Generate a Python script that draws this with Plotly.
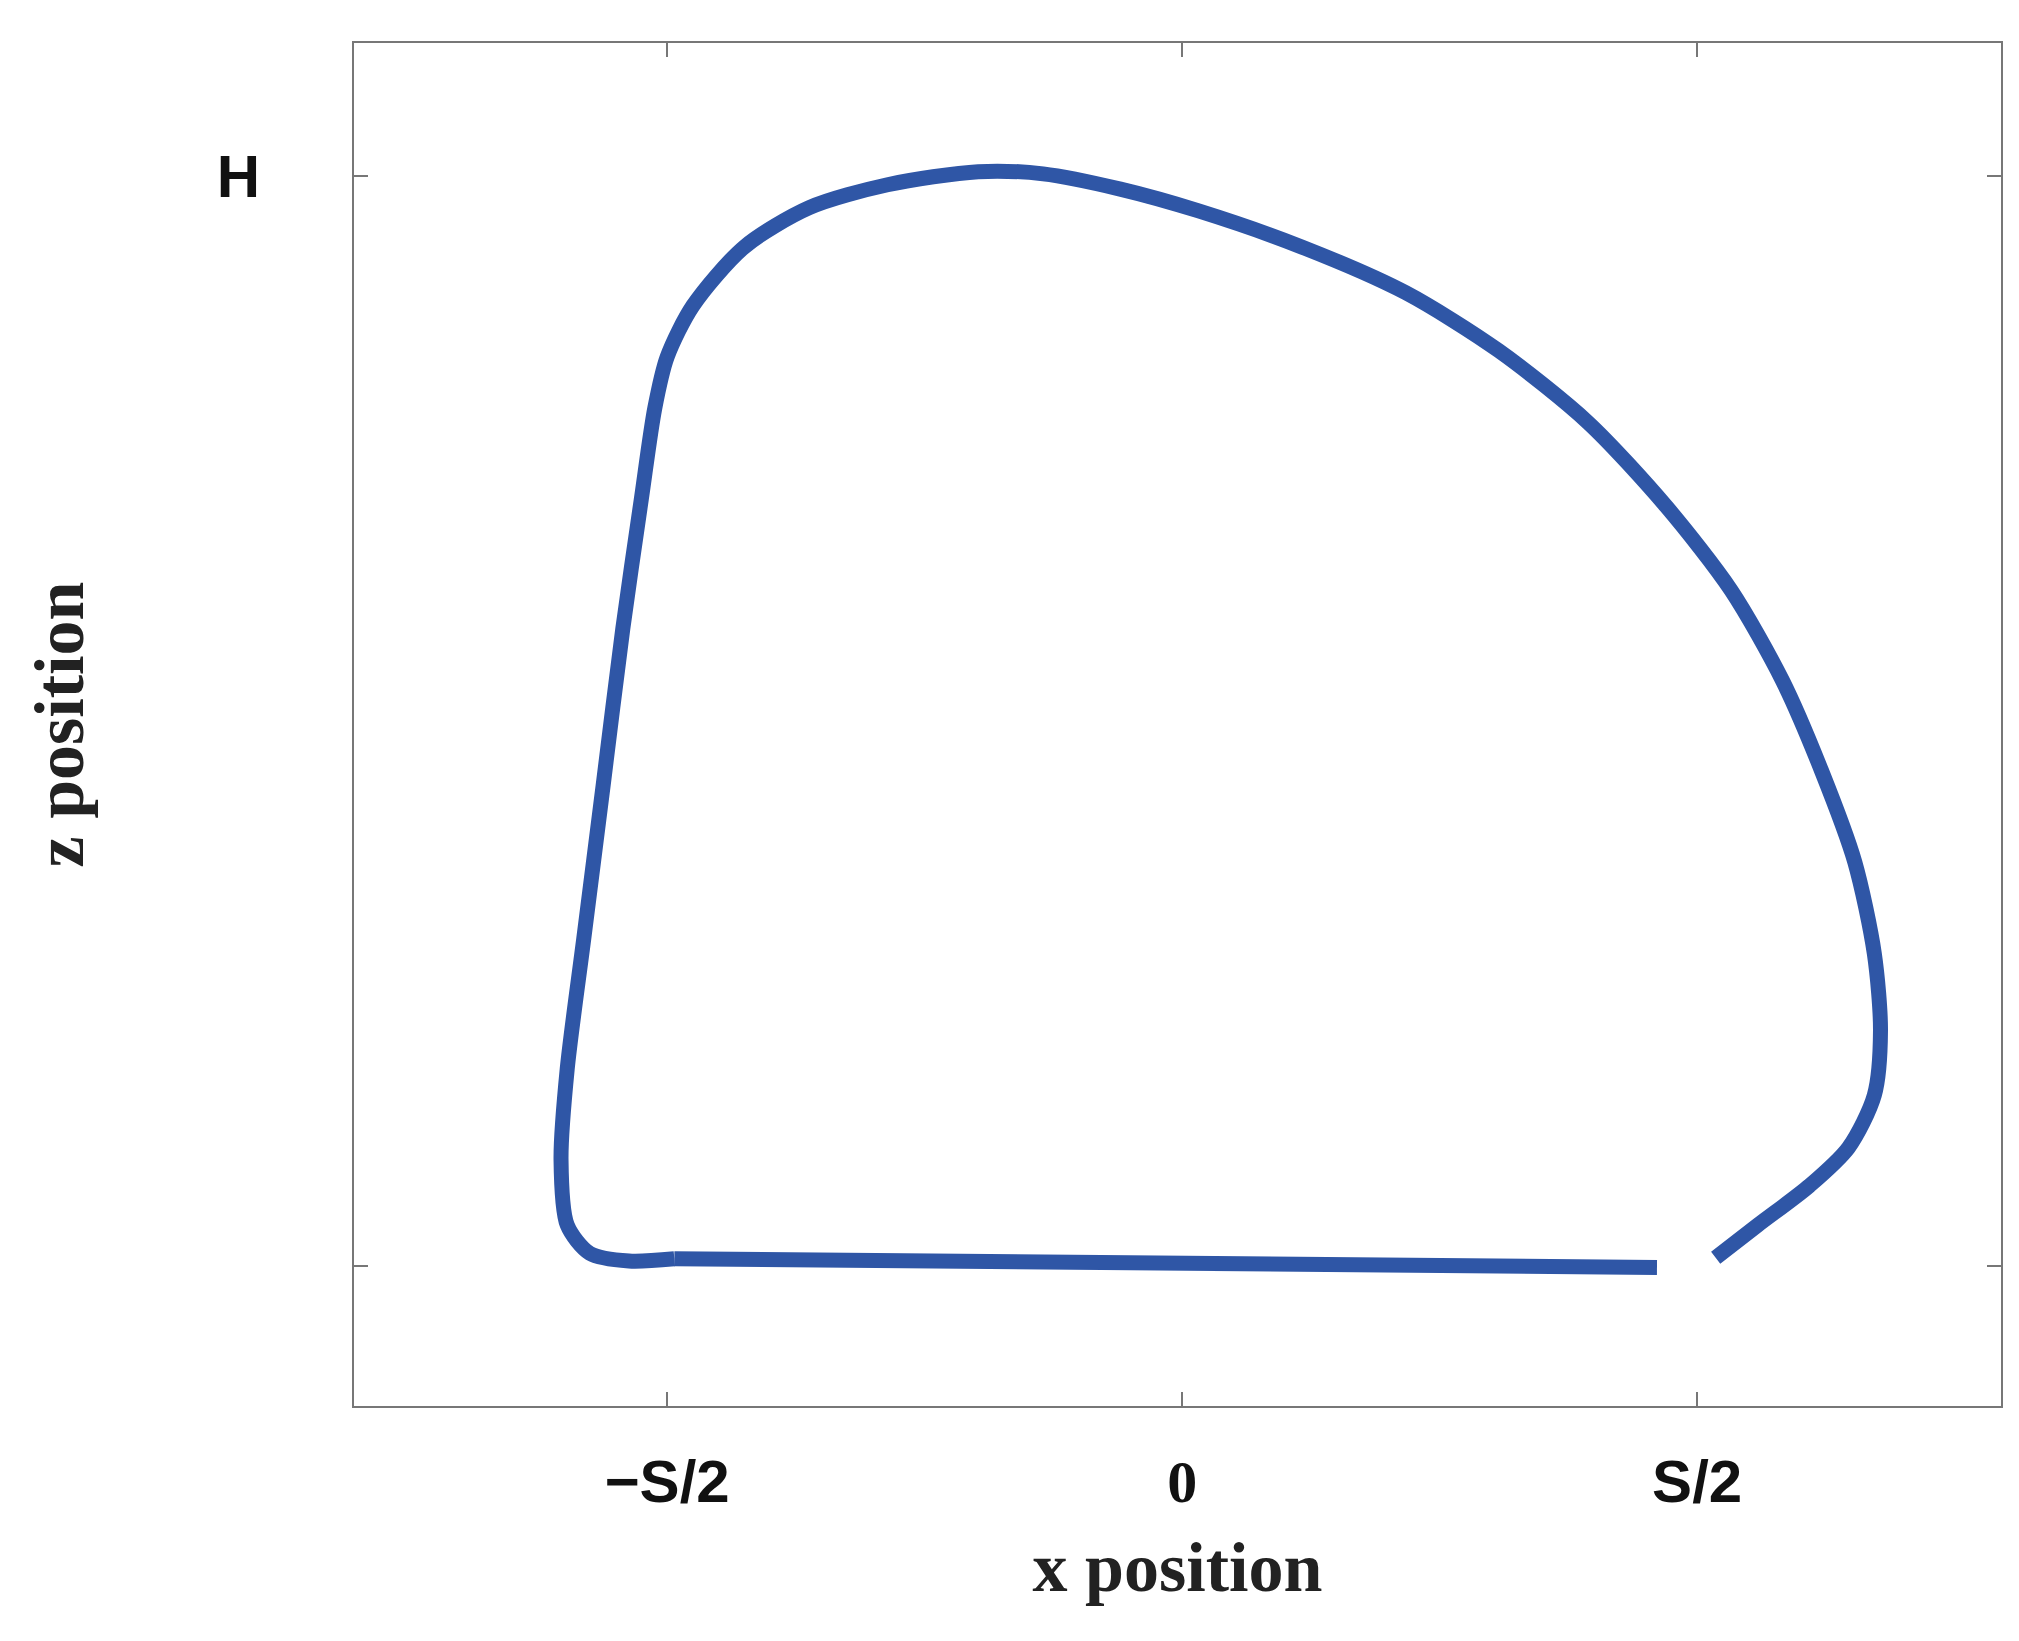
import plotly.graph_objects as go

# x in units of S, z in units of H
x_main = [0.461,-0.493,-0.537,-0.575,-0.597,-0.603,-0.597,-0.581,-0.562,-0.543,-0.525,-0.512,-0.500,-0.475,-0.425,-0.362,-0.286,-0.198,-0.135,-0.060,0.016,0.116,0.217,0.307,0.394,0.470,0.533,0.583,0.621,0.653,0.672,0.678,0.672,0.647,0.609,0.559,0.518]
z_main = [-0.001,0.007,0.005,0.012,0.038,0.098,0.181,0.300,0.442,0.585,0.704,0.787,0.834,0.881,0.935,0.971,0.992,1.004,1.002,0.988,0.968,0.935,0.893,0.840,0.774,0.697,0.620,0.537,0.454,0.371,0.287,0.216,0.157,0.109,0.074,0.038,0.008]
x_ticks = [-0.5, 0, 0.5]
x_labels = ['<b>−S/2</b>', '<span style="font-family:Liberation Serif"><b>0</b></span>', '<b>S/2</b>']
z_ticks = [0, 1]
z_labels = ['', '<b>H</b>']

fig = go.Figure()
fig.add_trace(go.Scatter(x=x_main[:2], y=z_main[:2], mode='lines', line=dict(color='#2F56A6', width=15)))
fig.add_trace(go.Scatter(x=x_main[1:], y=z_main[1:], mode='lines', line=dict(color='#2F56A6', width=15, shape='spline', smoothing=0.8)))
ax = dict(showgrid=False, zeroline=False, showline=True, linecolor='#777', linewidth=2, mirror='ticks',
          ticks='inside', ticklen=14, tickcolor='#777', tickwidth=2)
fig.update_layout(
    width=2019, height=1641, paper_bgcolor='white', plot_bgcolor='white', showlegend=False,
    margin=dict(l=346, r=26, t=35, b=243),
    xaxis=dict(**ax, range=[-0.804, 0.795], tickvals=x_ticks, ticktext=x_labels, ticklabelstandoff=22,
               tickfont=dict(size=60, color='#111', family='Liberation Sans'),
               title=dict(text='<b>x position</b>', font=dict(size=70, family='Liberation Serif', color='#222'), standoff=28)),
    yaxis=dict(**ax, range=[-0.128, 1.122], tickvals=z_ticks, ticktext=z_labels, ticklabelstandoff=80,
               tickfont=dict(size=60, color='#111', family='Liberation Sans'),
               title=dict(text='<b>z position</b>', font=dict(size=70, family='Liberation Serif', color='#222'), standoff=110)),
)
fig.write_html('out.html')
